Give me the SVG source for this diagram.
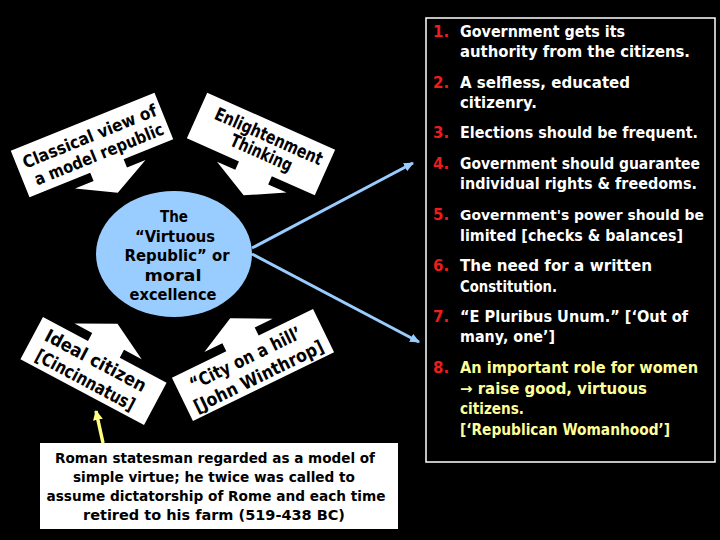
<svg xmlns="http://www.w3.org/2000/svg" width="720" height="540" viewBox="0 0 720 540">
<defs>
<style>
.bg{fill:#000}
.call{fill:#fff;stroke:none}
.ct{font-family:"DejaVu Sans","Liberation Sans",sans-serif;font-weight:bold;font-size:17px;fill:#000;text-anchor:middle}
.et{font-family:"DejaVu Sans","Liberation Sans",sans-serif;font-weight:bold;font-size:16px;fill:#000;text-anchor:middle}
.bt{font-family:"DejaVu Sans","Liberation Sans",sans-serif;font-weight:bold;font-size:14px;fill:#000;text-anchor:middle}
.num{font-family:"DejaVu Sans","Liberation Sans",sans-serif;font-weight:bold;font-size:15px;fill:#ee1c1c}
.lt{font-family:"DejaVu Sans","Liberation Sans",sans-serif;font-weight:bold;font-size:15px;fill:#fff}
.yt{fill:#ffff99}
.blue{stroke:#99ccff;stroke-width:3;fill:none}
.yel{stroke:#ffff80;stroke-width:3.5;fill:none}
</style>
<marker id="ab" markerUnits="userSpaceOnUse" markerWidth="12" markerHeight="10" refX="9" refY="4.5" orient="auto">
<path d="M0,0 L10,4.5 L0,9 Z" fill="#99ccff"/>
</marker>
<marker id="ay" markerUnits="userSpaceOnUse" markerWidth="12" markerHeight="12" refX="9" refY="5" orient="auto">
<path d="M0,0 L10,5 L0,10 Z" fill="#ffff80"/>
</marker>
</defs>
<rect class="bg" x="0" y="0" width="720" height="540"/>

<g id="connectors">
<line class="blue" x1="252" y1="248" x2="413" y2="163" marker-end="url(#ab)"/>
<line class="blue" x1="252" y1="254" x2="419" y2="342" marker-end="url(#ab)"/>
<line class="yel" x1="103" y1="443" x2="96" y2="411" marker-end="url(#ay)"/>
</g>

<g id="classical" transform="translate(92,145) rotate(-22)">
<path class="call" d="M-77.5,-25 H77.5 V25 H24 V34 H44 L6,54 L-32,34 H-12 V25 H-77.5 Z"/>
<text class="ct" x="1" y="-3" textLength="143" lengthAdjust="spacingAndGlyphs">Classical view of</text>
<text class="ct" x="3" y="17" textLength="138" lengthAdjust="spacingAndGlyphs">a model republic</text>
</g>

<g id="enlightenment" transform="translate(261,144) rotate(24)">
<path class="call" d="M-70,-25 H70 V25 H23 V34 H43 L5,54 L-33,34 H-13 V25 H-70 Z"/>
<text class="ct" x="4" y="-4" style="font-size:18px" textLength="116" lengthAdjust="spacingAndGlyphs">Enlightenment</text>
<text class="ct" x="4" y="14" style="font-size:18px" textLength="66" lengthAdjust="spacingAndGlyphs">Thinking</text>
</g>

<g id="virtuous">
<ellipse cx="174" cy="254" rx="78" ry="63" fill="#99ccff"/>
<text class="et" x="174" y="222" textLength="28" lengthAdjust="spacingAndGlyphs">The</text>
<text class="et" x="175" y="242" textLength="80" lengthAdjust="spacingAndGlyphs">“Virtuous</text>
<text class="et" x="177" y="261" textLength="105" lengthAdjust="spacingAndGlyphs">Republic” or</text>
<text class="et" x="173" y="281" textLength="57" lengthAdjust="spacingAndGlyphs">moral</text>
<text class="et" x="173" y="300" textLength="87" lengthAdjust="spacingAndGlyphs">excellence</text>
</g>

<g id="ideal" transform="translate(93.5,371) rotate(28)">
<path class="call" d="M-70,-24 H-19 V-33 H-39 L-1,-53 L37,-33 H17 V-24 H70 V24 H-70 Z"/>
<text class="ct" x="-3" y="-4" style="font-size:18px" textLength="112" lengthAdjust="spacingAndGlyphs">Ideal citizen</text>
<text class="ct" x="-3" y="18" style="font-size:18px" textLength="110" lengthAdjust="spacingAndGlyphs">[Cincinnatus]</text>
</g>

<g id="cityhill" transform="translate(253,365) rotate(-26)">
<path class="call" d="M-78.5,-24 H-18 V-33 H-38 L0,-52 L38,-33 H18 V-24 H78.5 V24 H-78.5 Z"/>
<text class="ct" x="-4" y="-3" style="font-size:18px" textLength="122" lengthAdjust="spacingAndGlyphs">“City on a hill’</text>
<text class="ct" x="0" y="19" style="font-size:18px" textLength="142" lengthAdjust="spacingAndGlyphs">[John Winthrop]</text>
</g>

<g id="cincinnatus">
<rect x="40" y="443" width="358" height="86" fill="#fff"/>
<text class="bt" x="215" y="463" textLength="320" lengthAdjust="spacingAndGlyphs">Roman statesman regarded as a model of</text>
<text class="bt" x="214" y="482" textLength="282" lengthAdjust="spacingAndGlyphs">simple virtue; he twice was called to</text>
<text class="bt" x="216" y="501" textLength="339" lengthAdjust="spacingAndGlyphs">assume dictatorship of Rome and each time</text>
<text class="bt" x="214" y="520" textLength="262" lengthAdjust="spacingAndGlyphs">retired to his farm (519-438 BC)</text>
</g>

<g id="principles">
<rect x="426" y="18" width="289" height="444" fill="none" stroke="#fff" stroke-width="1.5"/>
<text class="num" x="433" y="37">1.</text>
<text class="lt" x="460" y="37" textLength="165" lengthAdjust="spacingAndGlyphs">Government gets its</text>
<text class="lt" x="460" y="57" textLength="230" lengthAdjust="spacingAndGlyphs">authority from the citizens.</text>
<text class="num" x="433" y="88">2.</text>
<text class="lt" x="460" y="88" textLength="170" lengthAdjust="spacingAndGlyphs">A selfless, educated</text>
<text class="lt" x="460" y="108" textLength="77" lengthAdjust="spacingAndGlyphs">citizenry.</text>
<text class="num" x="433" y="138">3.</text>
<text class="lt" x="460" y="138" textLength="238" lengthAdjust="spacingAndGlyphs">Elections should be frequent.</text>
<text class="num" x="433" y="169">4.</text>
<text class="lt" x="460" y="169" textLength="240" lengthAdjust="spacingAndGlyphs">Government should guarantee</text>
<text class="lt" x="460" y="189" textLength="237" lengthAdjust="spacingAndGlyphs">individual rights &amp; freedoms.</text>
<text class="num" x="433" y="220">5.</text>
<text class="lt" x="460" y="220" style="font-size:14px" textLength="244" lengthAdjust="spacingAndGlyphs">Government's power should be</text>
<text class="lt" x="460" y="241" textLength="223" lengthAdjust="spacingAndGlyphs">limited [checks &amp; balances]</text>
<text class="num" x="433" y="271">6.</text>
<text class="lt" x="460" y="271" textLength="192" lengthAdjust="spacingAndGlyphs">The need for a written</text>
<text class="lt" x="460" y="292" textLength="97" lengthAdjust="spacingAndGlyphs">Constitution.</text>
<text class="num" x="433" y="322">7.</text>
<text class="lt" x="460" y="322" textLength="228" lengthAdjust="spacingAndGlyphs">“E Pluribus Unum.” [‘Out of</text>
<text class="lt" x="460" y="342" textLength="95" lengthAdjust="spacingAndGlyphs">many, one’]</text>
<text class="num" x="433" y="373">8.</text>
<text class="lt yt" x="460" y="373" textLength="238" lengthAdjust="spacingAndGlyphs">An important role for women</text>
<text class="lt yt" x="460" y="394" textLength="187" lengthAdjust="spacingAndGlyphs">→ raise good, virtuous</text>
<text class="lt yt" x="460" y="414" textLength="64" lengthAdjust="spacingAndGlyphs">citizens.</text>
<text class="lt yt" x="460" y="435" textLength="210" lengthAdjust="spacingAndGlyphs">[‘Republican Womanhood’]</text>
</g>
</svg>
